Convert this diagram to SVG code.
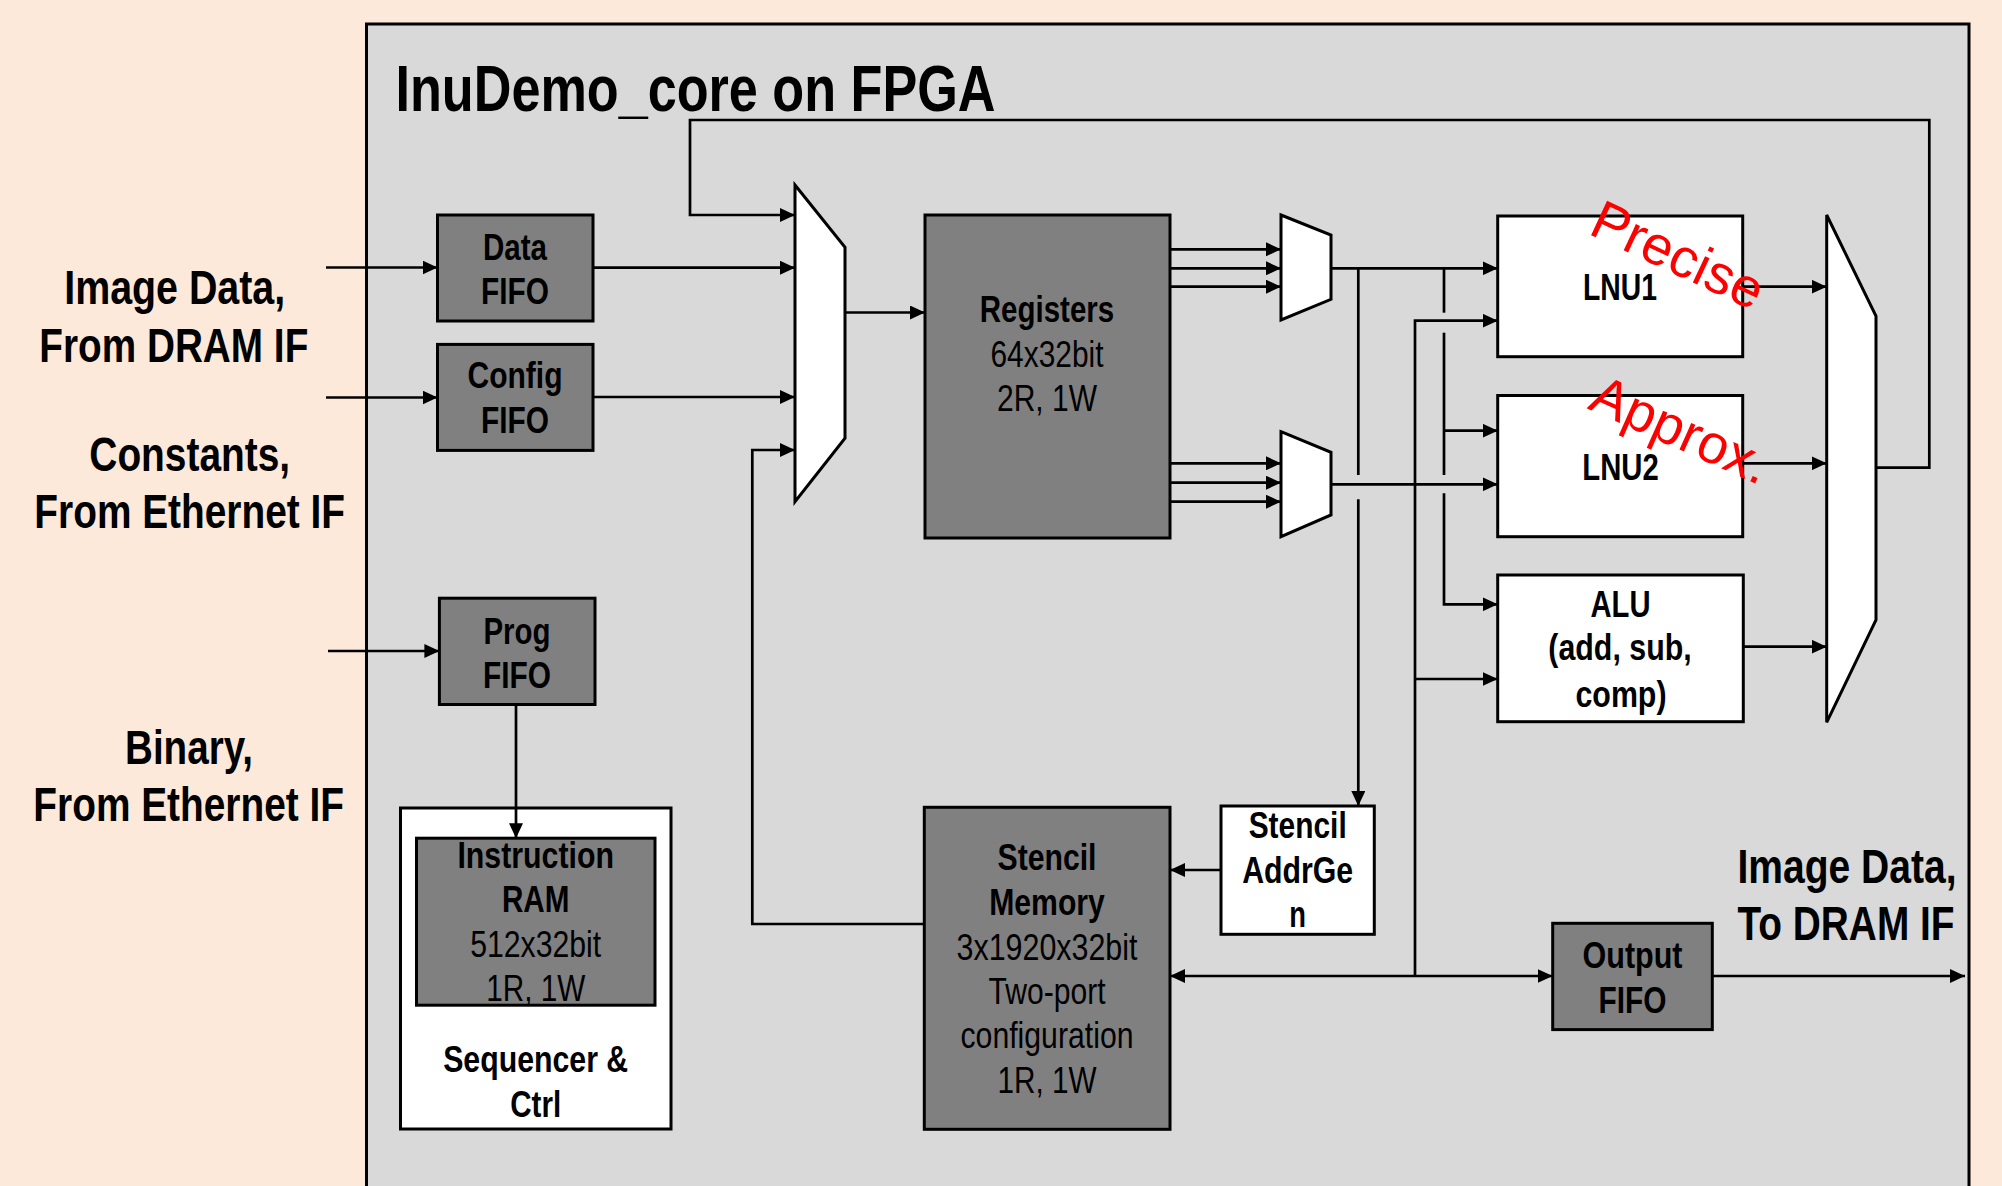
<svg xmlns="http://www.w3.org/2000/svg" width="2002" height="1186" viewBox="0 0 2002 1186">
<style>
text{font-family:"Liberation Sans Narrow","Liberation Sans",Arial,sans-serif;fill:#000}
.t{font-size:64px;font-weight:bold}
.lbl{font-size:48px;font-weight:bold;text-anchor:middle}
.rl{font-size:48px;font-weight:bold}
.b{font-size:36px;font-weight:bold;text-anchor:middle}
.r{font-size:36px;font-weight:normal;text-anchor:middle}
.red{font-family:"Liberation Sans",Arial,sans-serif;font-size:55px;fill:#ff0000}
.dark{fill:#808080;stroke:#000;stroke-width:3}
.white{fill:#fff;stroke:#000;stroke-width:3}
.w{fill:none;stroke:#000;stroke-width:2.7}
.a{marker-end:url(#ah)}
</style>
<defs>
<marker id="ah" markerUnits="userSpaceOnUse" markerWidth="16" markerHeight="14" refX="15" refY="7" orient="auto-start-reverse"><path d="M0,0 L15,7 L0,14 z" fill="#000"/></marker>
</defs>
<rect width="2002" height="1186" fill="#FDE9D9"/>
<g id="frame">
<rect x="366.5" y="24" width="1602.5" height="1200" fill="#D9D9D9" stroke="#000" stroke-width="3"/>
<text class="t" x="395.5" y="110.7" textLength="600" lengthAdjust="spacingAndGlyphs">InuDemo_core on FPGA</text>
</g>
<g id="labels">
<text class="lbl" x="174.7" y="303.6" textLength="221" lengthAdjust="spacingAndGlyphs">Image Data,</text>
<text class="lbl" x="173.8" y="362" textLength="269" lengthAdjust="spacingAndGlyphs">From DRAM IF</text>
<text class="lbl" x="189.7" y="471.2" textLength="200.7" lengthAdjust="spacingAndGlyphs">Constants,</text>
<text class="lbl" x="189.7" y="527.5" textLength="310.7" lengthAdjust="spacingAndGlyphs">From Ethernet IF</text>
<text class="lbl" x="189" y="764" textLength="128" lengthAdjust="spacingAndGlyphs">Binary,</text>
<text class="lbl" x="188.7" y="821" textLength="310.7" lengthAdjust="spacingAndGlyphs">From Ethernet IF</text>
<text class="rl" x="1737.5" y="883" textLength="219" lengthAdjust="spacingAndGlyphs">Image Data,</text>
<text class="rl" x="1737.5" y="940" textLength="217" lengthAdjust="spacingAndGlyphs">To DRAM IF</text>
</g>
<g id="mux1"><polygon class="white" points="795,185 845,247.3 845,438.3 795,501.7"/></g>
<g id="mux2"><polygon class="white" points="1281,215 1331,235 1331,299.3 1281,320"/></g>
<g id="mux3"><polygon class="white" points="1281,431.7 1331,452.3 1331,515 1281,536.7"/></g>
<g id="mux4"><polygon class="white" points="1826.7,215 1876,316 1876,620 1826.7,722.3"/></g>
<g id="data-fifo">
<rect class="dark" x="437.5" y="215" width="155.5" height="106"/>
<text class="b" x="515" y="259.5" textLength="64" lengthAdjust="spacingAndGlyphs">Data</text>
<text class="b" x="515" y="304" textLength="68" lengthAdjust="spacingAndGlyphs">FIFO</text>
</g>
<g id="config-fifo">
<rect class="dark" x="437.5" y="344.4" width="155.5" height="106"/>
<text class="b" x="515" y="388.4" textLength="95" lengthAdjust="spacingAndGlyphs">Config</text>
<text class="b" x="515" y="432.5" textLength="68" lengthAdjust="spacingAndGlyphs">FIFO</text>
</g>
<g id="prog-fifo">
<rect class="dark" x="439.4" y="598.2" width="155.6" height="106.3"/>
<text class="b" x="517" y="643.8" textLength="67" lengthAdjust="spacingAndGlyphs">Prog</text>
<text class="b" x="517" y="688.2" textLength="68" lengthAdjust="spacingAndGlyphs">FIFO</text>
</g>
<g id="sequencer">
<rect class="white" x="400.5" y="808" width="270.5" height="321"/>
<text class="b" x="535.7" y="1071.7" textLength="185" lengthAdjust="spacingAndGlyphs">Sequencer &amp;</text>
<text class="b" x="535.7" y="1116.5" textLength="51" lengthAdjust="spacingAndGlyphs">Ctrl</text>
</g>
<g id="instruction-ram">
<rect class="dark" x="416.5" y="838.2" width="238.5" height="167"/>
<text class="b" x="535.7" y="868" textLength="156.5" lengthAdjust="spacingAndGlyphs">Instruction</text>
<text class="b" x="535.7" y="912.4" textLength="67.5" lengthAdjust="spacingAndGlyphs">RAM</text>
<text class="r" x="535.7" y="957" textLength="131" lengthAdjust="spacingAndGlyphs">512x32bit</text>
<text class="r" x="535.7" y="1001" textLength="99" lengthAdjust="spacingAndGlyphs">1R, 1W</text>
</g>
<g id="registers">
<rect class="dark" x="925" y="215" width="245" height="323"/>
<text class="b" x="1047" y="322" textLength="134.5" lengthAdjust="spacingAndGlyphs">Registers</text>
<text class="r" x="1047" y="367.4" textLength="113" lengthAdjust="spacingAndGlyphs">64x32bit</text>
<text class="r" x="1047" y="411.4" textLength="100" lengthAdjust="spacingAndGlyphs">2R, 1W</text>
</g>
<g id="stencil-memory">
<rect class="dark" x="924.3" y="807.3" width="245.7" height="322"/>
<text class="b" x="1047" y="870" textLength="99" lengthAdjust="spacingAndGlyphs">Stencil</text>
<text class="b" x="1047" y="915" textLength="115.7" lengthAdjust="spacingAndGlyphs">Memory</text>
<text class="r" x="1047" y="960" textLength="181" lengthAdjust="spacingAndGlyphs">3x1920x32bit</text>
<text class="r" x="1047" y="1004" textLength="117" lengthAdjust="spacingAndGlyphs">Two-port</text>
<text class="r" x="1047" y="1048" textLength="173" lengthAdjust="spacingAndGlyphs">configuration</text>
<text class="r" x="1047" y="1093" textLength="99" lengthAdjust="spacingAndGlyphs">1R, 1W</text>
</g>
<g id="stencil-addrgen">
<rect class="white" x="1221" y="806" width="153.3" height="128.3"/>
<text class="b" x="1297.7" y="838.3" textLength="98" lengthAdjust="spacingAndGlyphs">Stencil</text>
<text class="b" x="1297.7" y="883.3" textLength="111" lengthAdjust="spacingAndGlyphs">AddrGe</text>
<text class="b" x="1297.7" y="926.7" textLength="16.7" lengthAdjust="spacingAndGlyphs">n</text>
</g>
<g id="lnu1">
<rect class="white" x="1497.7" y="216" width="245" height="140.7"/>
<text class="b" x="1620" y="300" textLength="74" lengthAdjust="spacingAndGlyphs">LNU1</text>
</g>
<g id="lnu2">
<rect class="white" x="1497.7" y="395.5" width="245" height="141.2"/>
<text class="b" x="1620.5" y="480" textLength="76.5" lengthAdjust="spacingAndGlyphs">LNU2</text>
</g>
<g id="alu">
<rect class="white" x="1497.7" y="575" width="245.6" height="146.7"/>
<text class="b" x="1620.5" y="616.7" textLength="60" lengthAdjust="spacingAndGlyphs">ALU</text>
<text class="b" x="1620" y="660" textLength="143.3" lengthAdjust="spacingAndGlyphs">(add, sub,</text>
<text class="b" x="1621" y="706.7" textLength="91" lengthAdjust="spacingAndGlyphs">comp)</text>
</g>
<g id="output-fifo">
<rect class="dark" x="1552.7" y="923.3" width="159.6" height="106.3"/>
<text class="b" x="1632.5" y="968.3" textLength="100" lengthAdjust="spacingAndGlyphs">Output</text>
<text class="b" x="1632.5" y="1013" textLength="68" lengthAdjust="spacingAndGlyphs">FIFO</text>
</g>
<g id="connectors" class="w">
<path class="a" d="M326,267.5 H437.5"/>
<path class="a" d="M326,397.5 H437.5"/>
<path class="a" d="M328,651 H439.4"/>
<path class="a" d="M593,267.7 H795"/>
<path class="a" d="M593,397 H795"/>
<path class="a" d="M1876,467.7 H1929.3 V120 H690 V215 H795"/>
<path class="a" d="M924.3,924 H752.3 V450 H795"/>
<path class="a" d="M845,312.5 H925"/>
<path class="a" d="M1170,249.3 H1281"/>
<path class="a" d="M1170,268.3 H1281"/>
<path class="a" d="M1170,286.7 H1281"/>
<path class="a" d="M1170,463.3 H1281"/>
<path class="a" d="M1170,482.7 H1281"/>
<path class="a" d="M1170,501.7 H1281"/>
<path class="a" d="M1331,268.3 H1497.7"/>
<path class="a" d="M1331,484.3 H1497.7"/>
<path d="M1358.3,268.3 V475"/>
<path class="a" d="M1358.3,499.3 V806"/>
<path d="M1444,268.3 V312.7"/>
<path d="M1444,332.7 V475"/>
<path class="a" d="M1444,493.3 V604.3 H1497.7"/>
<path class="a" d="M1444,430.7 H1497.7"/>
<path class="a" d="M1415,976 V320.7 H1497.7"/>
<path class="a" d="M1415,679 H1497.7"/>
<path class="a" d="M1170,976 H1552.7" marker-start="url(#ah)"/>
<path class="a" d="M1712.3,976 H1965"/>
<path class="a" d="M1221,870 H1170"/>
<path class="a" d="M516,704.5 V838.2"/>
<path class="a" d="M1742.7,286.7 H1826.7"/>
<path class="a" d="M1742.7,463.3 H1826.7"/>
<path class="a" d="M1743.3,646.7 H1826.7"/>
</g>
<g id="annotations">
<text class="red" transform="translate(1587,233.3) rotate(25)">Precise</text>
<text class="red" transform="translate(1586.5,408.3) rotate(24)">Approx.</text>
</g>
</svg>
